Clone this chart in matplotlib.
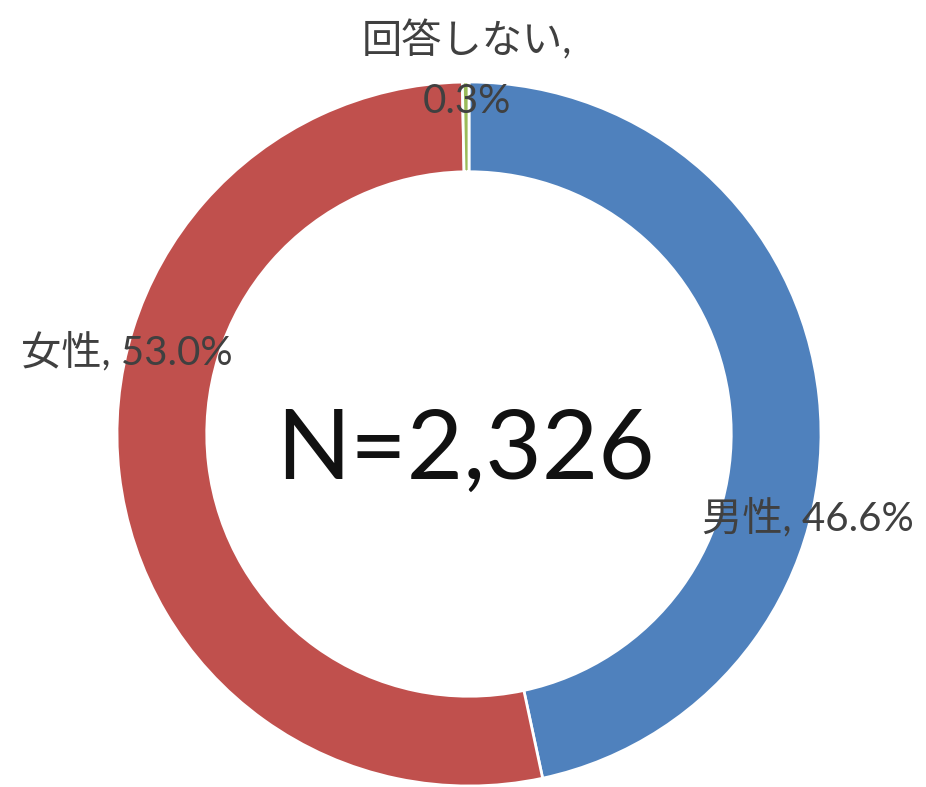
import matplotlib
matplotlib.use("Agg")
import matplotlib.pyplot as plt

labels = ["男性", "女性", "回答しない"]
values = [46.6, 53.0, 0.3]
colors = ["#4F81BD", "#C0504D", "#9BBB59"]
total_n = "N=2,326"

plt.rcParams['font.family'] = ['Lato', 'Noto Sans CJK JP', 'DejaVu Sans']

W, H = 926, 787
cx, cy, R = 469, 434, 352

fig = plt.figure(figsize=(W / 100, H / 100), dpi=100)
ax = fig.add_axes([0, 0, 1, 1])

ax.pie(values, colors=colors, startangle=90, counterclock=False, radius=1,
       wedgeprops=dict(width=0.255, edgecolor='white', linewidth=2))

# pie() resets the limits, so fix them afterwards
ax.set_xlim(-cx / R, (W - cx) / R)
ax.set_ylim(-(H - cy) / R, cy / R)
ax.set_aspect('equal')
ax.axis('off')

def px(x, y):
    return ((x - cx) / R, (cy - y) / R)

txt_color = "#404040"
ax.text(*px(808, 518), f"{labels[0]}, {values[0]}%", fontsize=29,
        color=txt_color, ha='center', va='center')
ax.text(*px(127, 352), f"{labels[1]}, {values[1]}%", fontsize=29,
        color=txt_color, ha='center', va='center')
ax.text(*px(467, 70), f"{labels[2]},\n{values[2]}%", fontsize=29,
        color=txt_color, ha='center', va='center', linespacing=1.75)
ax.text(*px(465, 452), total_n, fontsize=70, color="#111111",
        ha='center', va='center')

fig.savefig("out.png", dpi=100)
